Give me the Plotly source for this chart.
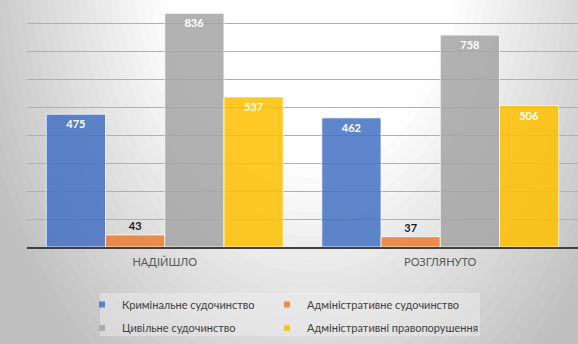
import plotly.graph_objects as go

categories = ["НАДІЙШЛО", "РОЗГЛЯНУТО"]
series_names = ["Кримінальне судочинство", "Адміністративне судочинство",
                "Цивільне судочинство", "Адміністративні правопорушення"]
krym = [475, 462]
adm_sud = [43, 37]
cyv = [836, 758]
adm_prav = [537, 506]
series_values = [krym, adm_sud, cyv, adm_prav]
colors = ["#4472C4", "#ED7D31", "#A5A5A5", "#FFC000"]

W, H = 578, 344
ML, MR, MT, MB = 27, 0, 0, 97
PW, PH = W - ML - MR, H - MT - MB

def px2paper(px, py):
    return (px - ML) / PW, (H - MB - py) / PH

fig = go.Figure()

for i, (name, vals, col) in enumerate(zip(series_names, series_values, colors)):
    outside = (i == 1)
    fig.add_trace(go.Bar(
        x=categories, y=vals, name=name, showlegend=False,
        marker=dict(color=col, opacity=0.85, line=dict(color="rgba(255,255,255,0.8)", width=1)),
        text=[str(v) for v in vals],
        textposition="outside" if outside else "inside",
        insidetextanchor="end",
        textangle=0,
        textfont=dict(family="Lato", size=11, weight="bold",
                      color="#1a1a1a" if outside else "white"),
        cliponaxis=False,
    ))

legend_ids = ["legend", "legend2", "legend3", "legend4"]
# legend entries (square markers)
for i, (name, col) in enumerate(zip(series_names, colors)):
    fig.add_trace(go.Scatter(
        x=[None], y=[None], mode="markers", name=name,
        marker=dict(symbol="square", size=6, color=col, opacity=0.85),
        legend=legend_ids[i],
        hoverinfo="skip",
    ))

# radial background gradient via nested ellipses
shapes = []
cx, cy = 310, -60
rx, ry = 330, 500
N = 40
t_max, t_min = 1.4, 0.45
def gray_at(t):
    if t <= 0.45:
        return 255
    g = 255 - 55 * (t - 0.45) / 0.55
    return max(192, g)
for k in range(N + 1):
    t = t_max - (t_max - t_min) * k / N
    g = int(round(gray_at(t)))
    x0, y0 = px2paper(cx - rx * t, cy - ry * t)
    x1, y1 = px2paper(cx + rx * t, cy + ry * t)
    shapes.append(dict(type="circle", xref="paper", yref="paper",
                       x0=x0, x1=x1, y0=y1, y1=y0,
                       fillcolor=f"rgb({g},{g},{g})", line=dict(width=0),
                       layer="below"))
# legend box
lx0, ly0 = px2paper(100, 293)
lx1, ly1 = px2paper(480, 336)
shapes.append(dict(type="rect", xref="paper", yref="paper",
                   x0=lx0, x1=lx1, y0=ly1, y1=ly0,
                   fillcolor="rgba(240,240,240,0.45)", line=dict(width=0),
                   layer="below"))

legend_common = dict(orientation="h", xref="container", yref="container",
                     xanchor="left", yanchor="middle",
                     bgcolor="rgba(0,0,0,0)", borderwidth=0,
                     font=dict(family="Lato", size=11, color="#404040"),
                     itemclick=False, itemdoubleclick=False)
col_x = [82, 267]
row_y = [304.5, 328]
legend_pos = [(col_x[0], row_y[0]), (col_x[1], row_y[0]),
              (col_x[0], row_y[1]), (col_x[1], row_y[1])]

layout_legends = {}
for lid, (lx, ly) in zip(legend_ids, legend_pos):
    layout_legends[lid] = dict(x=lx / W, y=1 - ly / H, **legend_common)

fig.update_layout(
    width=W, height=H,
    margin=dict(l=ML, r=MR, t=MT, b=MB),
    paper_bgcolor="rgb(200,200,200)",
    plot_bgcolor="rgba(0,0,0,0)",
    barmode="group", bargap=0.14, bargroupgap=0,
    shapes=shapes,
    showlegend=True,
    xaxis=dict(showline=True, linecolor="#404040", linewidth=2,
               ticks="", ticklabelstandoff=4,
               tickfont=dict(family="Lato", size=11, color="#595959"),
               showgrid=False, fixedrange=True),
    yaxis=dict(range=[0, 883.6], dtick=100, showticklabels=False,
               showgrid=True, gridcolor="#b0b0b0", gridwidth=1,
               zeroline=False, showline=False, fixedrange=True),
    font=dict(family="Lato"),
    **layout_legends,
)

fig.write_html("out.html")
